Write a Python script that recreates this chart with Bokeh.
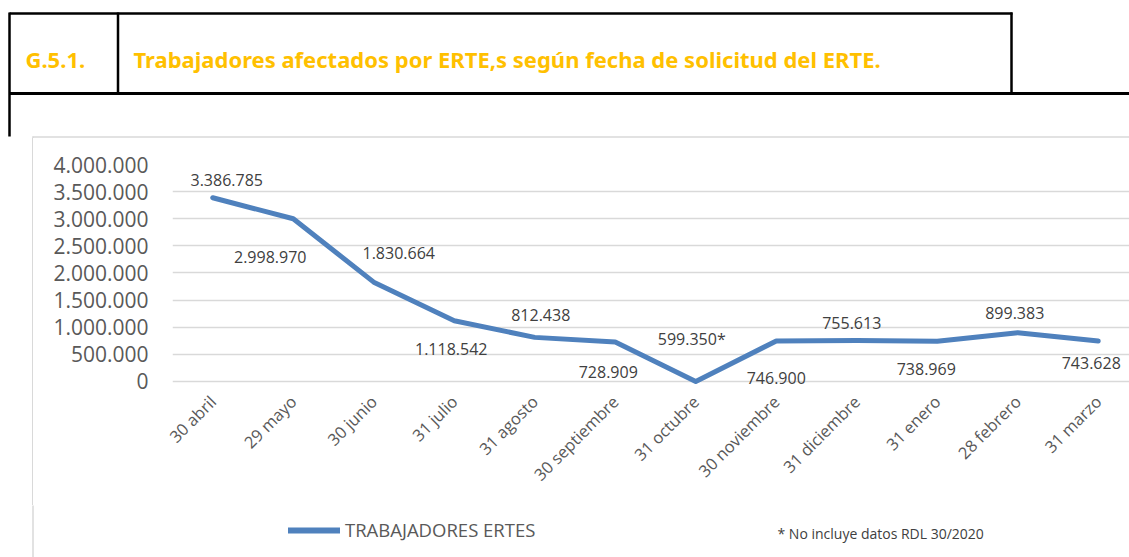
import math
from bokeh.plotting import figure
from bokeh.models import (Range1d, FixedTicker, ColumnDataSource, LabelSet,
                          Legend, LegendItem, Spacer)
from bokeh.layouts import column, row
from bokeh.embed import file_html
from bokeh.resources import INLINE
from bokeh.core.properties import value

# ---------------- data ----------------
categories = ["30 abril", "29 mayo", "30 junio", "31 julio", "31 agosto",
              "30 septiembre", "31 octubre", "30 noviembre", "31 diciembre",
              "31 enero", "28 febrero", "31 marzo"]
workers = [3386785, 2998970, 1830664, 1118542, 812438, 728909,
           0, 746900, 755613, 738969, 899383, 743628]
value_labels = ["3.386.785", "2.998.970", "1.830.664", "1.118.542", "812.438",
                "728.909", "599.350*", "746.900", "755.613", "738.969",
                "899.383", "743.628"]
y_ticks = [0, 500000, 1000000, 1500000, 2000000, 2500000, 3000000, 3500000, 4000000]
y_tick_labels = ["0", "500.000", "1.000.000", "1.500.000", "2.000.000",
                 "2.500.000", "3.000.000", "3.500.000", "4.000.000"]
series_name = "TRABAJADORES ERTES"
title_code = "G.5.1."
title_text = "Trabajadores afectados por ERTE,s según fecha de solicitud del ERTE."
footnote = "* No incluye datos RDL 30/2020"

# label placement offsets (pixels, dx right, dy down) - style
label_dx = [14, -23, 25, -3, 6, -7, -4, 0, -5, -11, -3, -7]
label_dy = [-18, 38, -29, 28, -22, 30, -42, 37, -17, 28, -20, 22]

# ---------------- styles ----------------
ORANGE = "#FFC000"
BLUE = "#4F81BD"
GRID = "#D9D9D9"
AXIS_TXT = "#595959"
LBL_TXT = "#404040"
FONT = "Open Sans"
TFONT = "Noto Sans"

W = 1129
HDR_H = 138
CH_H = 367
LEG_H = 52
STRIP_W = 34

def blank(width, height, x0, x1, y_top, y_bottom):
    f = figure(width=width, height=height, x_range=Range1d(x0, x1),
               y_range=Range1d(y_bottom, y_top), toolbar_location=None,
               output_backend="svg", x_axis_type=None, y_axis_type=None,
               min_border=0, outline_line_color=None)
    f.grid.visible = False
    return f

# ---------------- header ----------------
hdr = blank(W, HDR_H, 0, W, 0, HDR_H)
hdr.segment(x0=[9, 9], y0=[13, 93], x1=[1012, W], y1=[13, 93],
            line_color="black", line_width=[2.5, 3])
hdr.segment(x0=[9, 117.5, 1011], y0=[12, 12, 12], x1=[9, 117.5, 1011], y1=[136, 93, 93],
            line_color="black", line_width=2.5)
hdr.segment(x0=[32], y0=[136.5], x1=[W], y1=[136.5], line_color=GRID, line_width=1.5)
hdr.segment(x0=[32.5], y0=[136], x1=[32.5], y1=[HDR_H + 2], line_color=GRID, line_width=1.5)
hdr.text(x=[25], y=[58], text=[title_code], text_font=value(TFONT), text_font_style="bold",
         text_font_size="22px", text_color=ORANGE, text_baseline="alphabetic")
hdr.text(x=[133], y=[58], text=[title_text], text_font=value(TFONT), text_font_style="bold",
         text_font_size="22px", text_color=ORANGE, text_baseline="alphabetic")

# ---------------- left strip (chart border, drawn as a CSS background line) ----------------
strip = Spacer(width=STRIP_W, height=CH_H,
               styles={"background": "linear-gradient(to right, transparent 32px, "
                                     f"{GRID} 32px, {GRID} 33.5px, transparent 33.5px)"})

# ---------------- chart ----------------
frame_left = 172
frame_w = W - frame_left
frame_h = 221
px_per_cat = 80.5
p = figure(frame_width=frame_w, frame_height=frame_h,
           x_range=Range1d(-0.5, -0.5 + frame_w / px_per_cat),
           y_range=Range1d(-75000, 4000000),
           toolbar_location=None, output_backend="svg",
           min_border_left=frame_left - STRIP_W, min_border_right=0, min_border_top=26,
           min_border_bottom=CH_H - 26 - frame_h, outline_line_color=None)

xs = list(range(len(categories)))
src = ColumnDataSource(dict(x=xs, y=workers, label=value_labels,
                            dx=label_dx, dy_up=[-d for d in label_dy]))

line_r = p.line(x="x", y="y", source=src, line_color=BLUE, line_width=5,
                line_join="round", line_cap="round")

p.xgrid.visible = False
p.ygrid.ticker = FixedTicker(ticks=y_ticks)
p.ygrid.grid_line_color = GRID
p.ygrid.grid_line_width = 1.5

p.yaxis.ticker = FixedTicker(ticks=y_ticks)
p.yaxis.major_label_overrides = {t: l for t, l in zip(y_ticks, y_tick_labels)}
p.yaxis.axis_line_color = None
p.yaxis.major_tick_line_color = None
p.yaxis.minor_tick_line_color = None
p.yaxis.major_tick_out = 0
p.yaxis.major_label_standoff = 24
p.yaxis.major_label_text_font = FONT
p.yaxis.major_label_text_font_size = "21px"
p.yaxis.major_label_text_color = AXIS_TXT

p.xaxis.ticker = FixedTicker(ticks=xs)
p.xaxis.major_label_overrides = {i: c for i, c in zip(xs, categories)}
p.xaxis.axis_line_color = None
p.xaxis.major_tick_line_color = None
p.xaxis.minor_tick_line_color = None
p.xaxis.major_tick_out = 0
p.xaxis.major_label_standoff = 13
p.xaxis.major_label_orientation = math.pi / 4
p.xaxis.major_label_text_font = FONT
p.xaxis.major_label_text_font_size = "16.5px"
p.xaxis.major_label_text_color = AXIS_TXT

labels = LabelSet(x="x", y="y", text="label", source=src, x_offset="dx", y_offset="dy_up",
                  text_align="center", text_baseline="middle", text_font=value(FONT),
                  text_font_size="16px", text_color=LBL_TXT)
p.add_layout(labels)

# ---------------- legend / footnote strip ----------------
leg = blank(W, LEG_H, 0, W, HDR_H + CH_H, HDR_H + CH_H + LEG_H)
leg.segment(x0=[32.5], y0=[HDR_H + CH_H - 5], x1=[32.5], y1=[HDR_H + CH_H + LEG_H + 5],
            line_color=GRID, line_width=1.5)
swatch = leg.line(x=[float("nan")], y=[float("nan")], line_color=BLUE, line_width=6,
                  line_cap="round")
legend = Legend(items=[LegendItem(label=series_name, renderers=[swatch])],
                location=(288, 15), glyph_width=52, glyph_height=20, label_standoff=5,
                padding=0, margin=0, border_line_color=None, background_fill_alpha=0,
                label_text_font=FONT, label_text_font_size="18.5px", label_text_color=AXIS_TXT)
leg.add_layout(legend, "center")
leg.text(x=[777], y=[533], text=[footnote], text_font=value(FONT), text_font_size="14px",
         text_color=LBL_TXT, text_baseline="middle", text_align="left")

layout = column(hdr, row(strip, p), leg)
open("out.html", "w").write(file_html(layout, INLINE))
